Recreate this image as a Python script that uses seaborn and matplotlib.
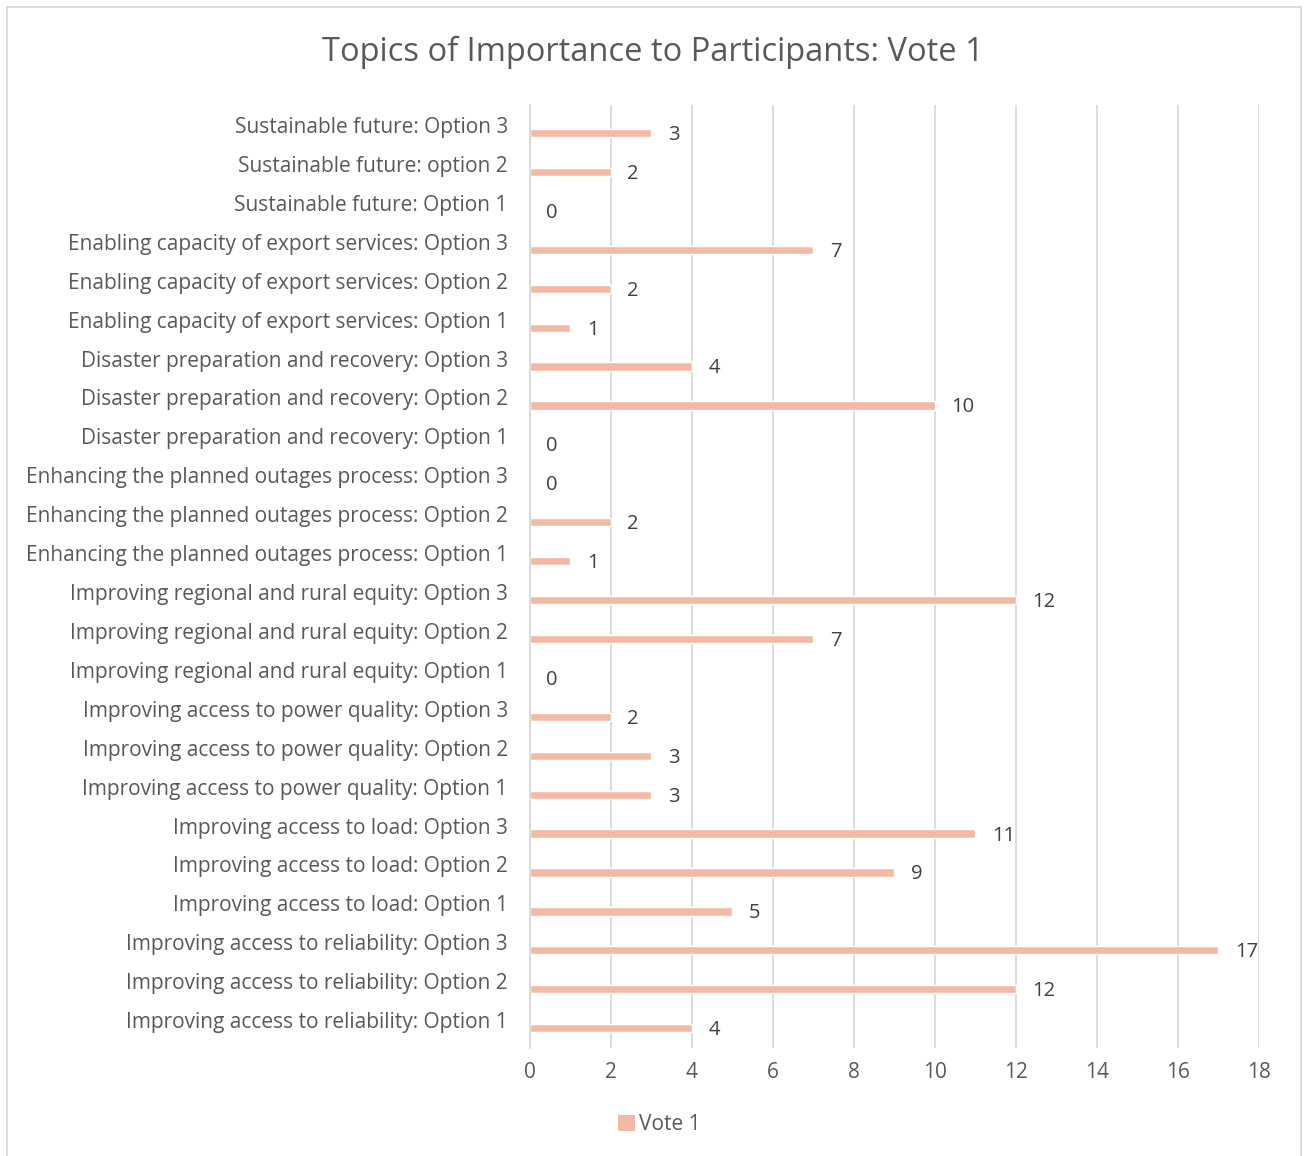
import pandas as pd
import matplotlib.pyplot as plt
import matplotlib.transforms as mtransforms
import seaborn as sns
from matplotlib.patches import Patch, Rectangle

# chart data (top to bottom as shown)
topics = [
    "Sustainable future: Option 3",
    "Sustainable future: option 2",
    "Sustainable future: Option 1",
    "Enabling capacity of export services: Option 3",
    "Enabling capacity of export services: Option 2",
    "Enabling capacity of export services: Option 1",
    "Disaster preparation and recovery: Option 3",
    "Disaster preparation and recovery: Option 2",
    "Disaster preparation and recovery: Option 1",
    "Enhancing the planned outages process: Option 3",
    "Enhancing the planned outages process: Option 2",
    "Enhancing the planned outages process: Option 1",
    "Improving regional and rural equity: Option 3",
    "Improving regional and rural equity: Option 2",
    "Improving regional and rural equity: Option 1",
    "Improving access to power quality: Option 3",
    "Improving access to power quality: Option 2",
    "Improving access to power quality: Option 1",
    "Improving access to load: Option 3",
    "Improving access to load: Option 2",
    "Improving access to load: Option 1",
    "Improving access to reliability: Option 3",
    "Improving access to reliability: Option 2",
    "Improving access to reliability: Option 1",
]
votes = [3, 2, 0, 7, 2, 1, 4, 10, 0, 0, 2, 1, 12, 7, 0, 2, 3, 3, 11, 9, 5, 17, 12, 4]
x_ticks = [0, 2, 4, 6, 8, 10, 12, 14, 16, 18]

df = pd.DataFrame({"Topic": topics, "Vote 1": votes})

sns.set_theme(style="white")
plt.rcParams['font.family'] = ['Open Sans', 'DejaVu Sans']

bar_color = "#F4B9A5"
text_color = "#595959"
grid_color = "#D9D9D9"

fig = plt.figure(figsize=(13.06, 11.56), dpi=100)
ax = fig.add_axes([0.4058, 0.0934, 0.964 - 0.4058, 0.9092 - 0.0934])

sns.barplot(data=df, x="Vote 1", y="Topic", color=bar_color, width=0.21,
            saturation=1, ax=ax)

ax.set_xlim(0, 18)
ax.set_ylim(23.51, -0.72)
ax.set_xticks(x_ticks)
ax.set_xlabel("")
ax.set_ylabel("")
ax.grid(axis="x", color=grid_color, linewidth=1.3)
ax.set_axisbelow(True)
for s in ["top", "right", "bottom"]:
    ax.spines[s].set_visible(False)
ax.spines["left"].set_color(grid_color)
ax.spines["left"].set_linewidth(1.3)
ax.tick_params(axis="y", length=0, pad=16, labelsize=15, labelcolor=text_color)
ax.tick_params(axis="x", length=0, pad=10, labelsize=15, labelcolor=text_color)

# category labels sit a little above their bars
shift = mtransforms.ScaledTranslation(0, 8 / 100, fig.dpi_scale_trans)
for lbl in ax.get_yticklabels():
    lbl.set_transform(lbl.get_transform() + shift)

# data labels
for i, v in enumerate(votes):
    ax.text(v + 0.4, i + 0.05, str(v), va="center", ha="left",
            fontsize=14.5, color="#404040")

fig.suptitle("Topics of Importance to Participants: Vote 1", y=0.969,
             fontsize=23.5, color=text_color)

handles = [Patch(facecolor=bar_color, edgecolor="none", label="Vote 1")]
fig.legend(handles=handles, loc="center", bbox_to_anchor=(0.505, 0.027),
           frameon=False, fontsize=15, labelcolor=text_color,
           handlelength=0.8, handleheight=0.8, handletextpad=0.2)

# outer chart border
fig.patches.append(Rectangle((0.0055, -0.01), 0.9905, 1.004, transform=fig.transFigure,
                             fill=False, edgecolor=grid_color, linewidth=1.3))

fig.savefig("out.png", dpi=100)
